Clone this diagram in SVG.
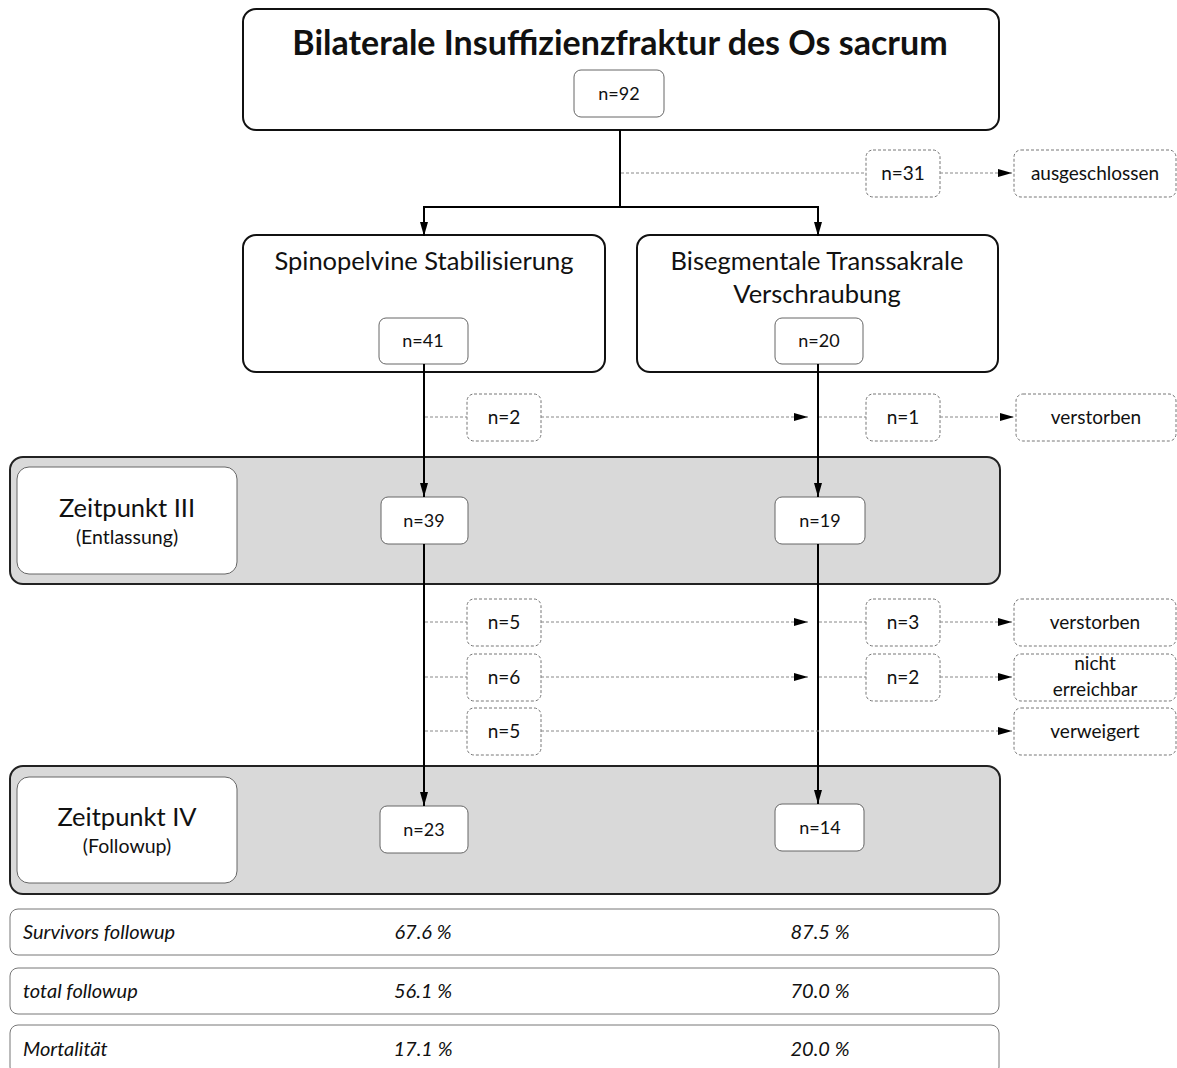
<svg xmlns="http://www.w3.org/2000/svg" width="1177" height="1068" viewBox="0 0 1177 1068">
<defs>
<marker id="ah" viewBox="0 0 10 14" refX="5" refY="14" markerWidth="10" markerHeight="14" markerUnits="userSpaceOnUse" orient="0"><path d="M1,0 L5,14 L9,0 z" fill="#000"/></marker>
<marker id="ahd" viewBox="0 0 14 10" refX="14" refY="5" markerWidth="14" markerHeight="10" markerUnits="userSpaceOnUse" orient="auto"><path d="M0,1 L14,5 L0,9 z" fill="#000"/></marker>
</defs>
<style>
text{font-family:Lato,"Open Sans","Liberation Sans",sans-serif;fill:#111;text-anchor:middle}
.big{fill:#fff;stroke:#111;stroke-width:2}
.band{fill:#d9d9d9;stroke:#222;stroke-width:2}
.n{fill:#fff;stroke:#666;stroke-width:1}
.d{fill:#fff;stroke:#777;stroke-width:1;stroke-dasharray:3,2}
.row{fill:#fff;stroke:#777;stroke-width:1}
.t1{font-size:34px;font-weight:bold}
.t2{font-size:25.5px}
.t3{font-size:19px}
.tn{font-size:18px}
.ts{font-size:19.5px}
.ti{font-size:20px;font-style:italic}
.sl{stroke:#000;stroke-width:2;fill:none}
.dl{stroke:#888;stroke-width:1;stroke-dasharray:3,2;fill:none}
</style>
<g id="top">
<rect class="big" x="243" y="9" width="756" height="121" rx="13"/>
<text class="t1" x="620" y="55">Bilaterale Insuffizienzfraktur des Os sacrum</text>
</g>
<g id="n92"><rect class="n" x="574" y="70" width="90" height="47" rx="7"/><text class="tn" x="619" y="100">n=92</text></g>
<g id="n31"><rect class="d" x="866" y="150" width="74" height="47" rx="7"/><text class="t3" x="903" y="180">n=31</text></g>
<g id="ausgeschlossen"><rect class="d" x="1014" y="150" width="162" height="47" rx="7"/><text class="t3" x="1095" y="180">ausgeschlossen</text></g>
<g id="spinopelvine">
<rect class="big" x="243" y="235" width="362" height="137" rx="13"/>
<text class="t2" x="424" y="270">Spinopelvine Stabilisierung</text>
</g>
<g id="bisegmentale">
<rect class="big" x="637" y="235" width="361" height="137" rx="13"/>
<text class="t2" x="817" y="270">Bisegmentale Transsakrale</text>
<text class="t2" x="817" y="303">Verschraubung</text>
</g>
<g id="n41"><rect class="n" x="379" y="318" width="89" height="46" rx="7"/><text class="tn" x="423" y="347">n=41</text></g>
<g id="n20"><rect class="n" x="775" y="318" width="88" height="46" rx="7"/><text class="tn" x="819" y="347">n=20</text></g>
<g id="n2"><rect class="d" x="467" y="394" width="74" height="47" rx="7"/><text class="t3" x="504" y="424">n=2</text></g>
<g id="n1"><rect class="d" x="866" y="394" width="74" height="47" rx="7"/><text class="t3" x="903" y="424">n=1</text></g>
<g id="verstorben1"><rect class="d" x="1016" y="394" width="160" height="47" rx="7"/><text class="t3" x="1096" y="424">verstorben</text></g>
<g id="zeitpunkt3">
<rect class="band" x="10" y="457" width="990" height="127" rx="13"/>
<rect class="n" x="17" y="467" width="220" height="107" rx="12"/>
<text class="t2" x="127" y="517">Zeitpunkt III</text>
<text class="ts" x="127" y="544">(Entlassung)</text>
</g>
<g id="n39"><rect class="n" x="381" y="497" width="87" height="47" rx="7"/><text class="tn" x="424" y="527">n=39</text></g>
<g id="n19"><rect class="n" x="775" y="497" width="90" height="47" rx="7"/><text class="tn" x="820" y="527">n=19</text></g>
<g id="n5a"><rect class="d" x="467" y="599" width="74" height="47" rx="7"/><text class="t3" x="504" y="629">n=5</text></g>
<g id="n3"><rect class="d" x="866" y="599" width="74" height="47" rx="7"/><text class="t3" x="903" y="629">n=3</text></g>
<g id="verstorben2"><rect class="d" x="1014" y="599" width="162" height="47" rx="7"/><text class="t3" x="1095" y="629">verstorben</text></g>
<g id="n6"><rect class="d" x="467" y="654" width="74" height="47" rx="7"/><text class="t3" x="504" y="684">n=6</text></g>
<g id="n2b"><rect class="d" x="866" y="654" width="74" height="47" rx="7"/><text class="t3" x="903" y="684">n=2</text></g>
<g id="nichterreichbar"><rect class="d" x="1014" y="654" width="162" height="47" rx="7"/><text class="t3" x="1095" y="670">nicht</text><text class="t3" x="1095" y="696">erreichbar</text></g>
<g id="n5b"><rect class="d" x="467" y="708" width="74" height="47" rx="7"/><text class="t3" x="504" y="738">n=5</text></g>
<g id="verweigert"><rect class="d" x="1014" y="708" width="162" height="47" rx="7"/><text class="t3" x="1095" y="738">verweigert</text></g>
<g id="zeitpunkt4">
<rect class="band" x="10" y="766" width="990" height="128" rx="13"/>
<rect class="n" x="17" y="777" width="220" height="106" rx="12"/>
<text class="t2" x="127" y="826">Zeitpunkt IV</text>
<text class="ts" x="127" y="853">(Followup)</text>
</g>
<g id="n23"><rect class="n" x="380" y="806" width="88" height="47" rx="7"/><text class="tn" x="424" y="836">n=23</text></g>
<g id="n14"><rect class="n" x="775" y="804" width="89" height="47" rx="7"/><text class="tn" x="820" y="834">n=14</text></g>
<g id="row1"><rect class="row" x="10" y="909" width="989" height="46" rx="8"/>
<text class="ti" x="23" y="939" style="text-anchor:start">Survivors followup</text>
<text class="ti" x="423" y="939">67.6 %</text><text class="ti" x="820" y="939">87.5 %</text></g>
<g id="row2"><rect class="row" x="10" y="968" width="989" height="46" rx="8"/>
<text class="ti" x="23" y="998" style="text-anchor:start">total followup</text>
<text class="ti" x="423" y="998">56.1 %</text><text class="ti" x="820" y="998">70.0 %</text></g>
<g id="row3"><rect class="row" x="10" y="1025" width="989" height="50" rx="8"/>
<text class="ti" x="23" y="1056" style="text-anchor:start">Mortalität</text>
<text class="ti" x="423" y="1056">17.1 %</text><text class="ti" x="820" y="1056">20.0 %</text></g>
<g id="connectors">
<path class="sl" d="M620,130 V207 M423,207 H819"/>
<path class="sl" d="M424,207 V236" marker-end="url(#ah)"/>
<path class="sl" d="M818,207 V236" marker-end="url(#ah)"/>
<path class="sl" d="M424,364 V497" marker-end="url(#ah)"/>
<path class="sl" d="M818,364 V497" marker-end="url(#ah)"/>
<path class="sl" d="M424,544 V806" marker-end="url(#ah)"/>
<path class="sl" d="M818,544 V804" marker-end="url(#ah)"/>
<path class="dl" d="M621,173 H866"/>
<path class="dl" d="M940,173 H1012" marker-end="url(#ahd)"/>
<path class="dl" d="M425,417 H467"/>
<path class="dl" d="M541,417 H808" marker-end="url(#ahd)"/>
<path class="dl" d="M819,417 H866"/>
<path class="dl" d="M940,417 H1014" marker-end="url(#ahd)"/>
<path class="dl" d="M425,622 H467"/>
<path class="dl" d="M541,622 H808" marker-end="url(#ahd)"/>
<path class="dl" d="M819,622 H866"/>
<path class="dl" d="M940,622 H1012" marker-end="url(#ahd)"/>
<path class="dl" d="M425,677 H467"/>
<path class="dl" d="M541,677 H808" marker-end="url(#ahd)"/>
<path class="dl" d="M819,677 H866"/>
<path class="dl" d="M940,677 H1012" marker-end="url(#ahd)"/>
<path class="dl" d="M425,731 H467"/>
<path class="dl" d="M541,731 H1012" marker-end="url(#ahd)"/>
</g>
</svg>
